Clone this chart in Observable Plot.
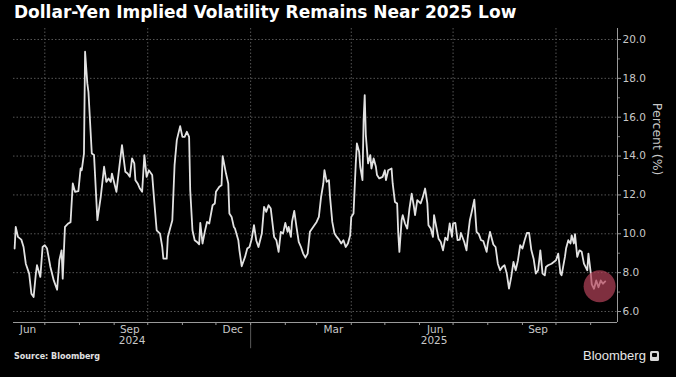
<!DOCTYPE html>
<html>
<head>
<meta charset="utf-8">
<script src="https://cdn.jsdelivr.net/npm/d3@7"></script>
<script src="https://cdn.jsdelivr.net/npm/@observablehq/plot@0.6"></script>
<style>
  html, body { margin: 0; padding: 0; background: #000; }
  #wrap { position: relative; width: 676px; height: 377px; background: #000; overflow: hidden; }
  #title { position: absolute; left: 14px; top: 4px; color: #fff; font: bold 17px "DejaVu Sans", sans-serif; line-height: 17px; white-space: nowrap; letter-spacing: 0; }
  #chart { position: absolute; left: 0; top: 24px; }
  #source { position: absolute; left: 14px; top: 352px; color: #e0e0e0; font: bold 8px "DejaVu Sans", sans-serif; line-height: 10px; white-space: nowrap; }
  #logo { position: absolute; left: 583px; top: 348px; color: #e6e6e6; font: 13px "Liberation Sans", Arial, sans-serif; line-height: 16px; white-space: nowrap; }
  #logo .icon { display: inline-block; width: 9px; height: 10px; background: #d8d8d8; border-radius: 1.5px; margin-left: 4px; vertical-align: -1px; position: relative; }
  #logo .icon::after { content: ""; position: absolute; left: 2px; top: 2px; width: 5px; height: 4px; background: #000; border-radius: 1px; }
</style>
</head>
<body>
<div id="wrap">
  <div id="title">Dollar-Yen Implied Volatility Remains Near 2025 Low</div>
  <div id="chart"></div>
  <div id="source">Source: Bloomberg</div>
  <div id="logo">Bloomberg<span class="icon"></span></div>
</div>
<script>
// ---- Data ----
const dates = [
  "2024-06-04","2024-06-05","2024-06-07","2024-06-10","2024-06-12","2024-06-14","2024-06-17","2024-06-19","2024-06-21","2024-06-23",
  "2024-06-24","2024-06-27","2024-06-29","2024-07-01","2024-07-03","2024-07-06","2024-07-09","2024-07-12","2024-07-14","2024-07-16",
  "2024-07-17","2024-07-19","2024-07-22","2024-07-24","2024-07-26","2024-07-28","2024-07-31","2024-08-02","2024-08-03","2024-08-05",
  "2024-08-06","2024-08-08","2024-08-09","2024-08-12","2024-08-14","2024-08-17","2024-08-20","2024-08-23","2024-08-25","2024-08-27",
  "2024-08-29","2024-08-30","2024-09-03","2024-09-06","2024-09-08","2024-09-11","2024-09-13","2024-09-15","2024-09-17","2024-09-19",
  "2024-09-20","2024-09-22","2024-09-24","2024-09-26","2024-09-28","2024-09-30","2024-10-02","2024-10-05","2024-10-07","2024-10-09",
  "2024-10-12","2024-10-14","2024-10-15","2024-10-18","2024-10-19","2024-10-21","2024-10-23","2024-10-25","2024-10-27","2024-10-30",
  "2024-11-01","2024-11-03","2024-11-05","2024-11-07","2024-11-08","2024-11-10","2024-11-12","2024-11-14","2024-11-16","2024-11-17",
  "2024-11-19","2024-11-21","2024-11-23","2024-11-25","2024-11-28","2024-11-30","2024-12-01","2024-12-04","2024-12-06","2024-12-07",
  "2024-12-10","2024-12-12","2024-12-13","2024-12-15","2024-12-17","2024-12-18","2024-12-21","2024-12-22","2024-12-24","2024-12-27",
  "2024-12-29","2024-12-31","2025-01-02","2025-01-04","2025-01-06","2025-01-08","2025-01-11","2025-01-13","2025-01-15","2025-01-17",
  "2025-01-19","2025-01-22","2025-01-24","2025-01-26","2025-01-28","2025-01-30","2025-02-01","2025-02-03","2025-02-04","2025-02-06",
  "2025-02-07","2025-02-09","2025-02-11","2025-02-13","2025-02-15","2025-02-17","2025-02-19","2025-02-21","2025-02-23","2025-02-25",
  "2025-02-27","2025-03-01","2025-03-03","2025-03-05","2025-03-07","2025-03-08","2025-03-10","2025-03-12","2025-03-13","2025-03-15",
  "2025-03-17","2025-03-19","2025-03-21","2025-03-23","2025-03-25","2025-03-27","2025-03-29","2025-03-31","2025-04-01","2025-04-03",
  "2025-04-05","2025-04-06","2025-04-08","2025-04-09","2025-04-11","2025-04-12","2025-04-13","2025-04-14","2025-04-16","2025-04-18",
  "2025-04-19","2025-04-21","2025-04-23","2025-04-24","2025-04-26","2025-04-29","2025-05-01","2025-05-02","2025-05-04","2025-05-07",
  "2025-05-08","2025-05-10","2025-05-12","2025-05-13","2025-05-14","2025-05-16","2025-05-17","2025-05-19","2025-05-21","2025-05-23",
  "2025-05-25","2025-05-27","2025-05-28","2025-05-30","2025-06-02","2025-06-04","2025-06-06","2025-06-08","2025-06-09","2025-06-11",
  "2025-06-13","2025-06-14","2025-06-16","2025-06-18","2025-06-20","2025-06-22","2025-06-24","2025-06-26","2025-06-28","2025-06-30",
  "2025-07-01","2025-07-03","2025-07-05","2025-07-07","2025-07-08","2025-07-11","2025-07-13","2025-07-14","2025-07-16","2025-07-18",
  "2025-07-20","2025-07-22","2025-07-24","2025-07-26","2025-07-28","2025-07-31","2025-08-01","2025-08-03","2025-08-06","2025-08-08",
  "2025-08-10","2025-08-12","2025-08-14","2025-08-16","2025-08-18","2025-08-20","2025-08-22","2025-08-24","2025-08-26","2025-08-28",
  "2025-08-30","2025-09-01","2025-09-03","2025-09-05","2025-09-07","2025-09-09","2025-09-11","2025-09-13","2025-09-15","2025-09-17",
  "2025-09-19","2025-09-21","2025-09-22","2025-09-24","2025-09-27","2025-09-29","2025-10-01","2025-10-03","2025-10-05","2025-10-06",
  "2025-10-09","2025-10-10","2025-10-12","2025-10-14","2025-10-15","2025-10-17","2025-10-18","2025-10-20","2025-10-22","2025-10-24",
  "2025-10-26","2025-10-29","2025-10-30","2025-11-01","2025-11-02","2025-11-04","2025-11-06","2025-11-08","2025-11-10","2025-11-12",
  "2025-11-14"
];
const values = [
  9.24,10.35,9.84,9.70,9.32,8.46,7.95,6.92,6.75,7.95,
  8.38,7.78,9.32,9.41,9.24,8.29,7.60,7.12,8.64,9.15,
  7.69,10.35,10.53,10.60,12.59,12.16,12.20,13.36,13.27,14.13,
  19.37,17.74,17.31,14.13,14.05,10.70,11.90,13.45,12.67,12.85,
  12.67,13.10,12.16,13.62,14.56,13.19,13.10,12.93,13.88,13.62,
  12.76,12.59,12.33,12.16,14.05,12.93,13.27,13.02,11.56,10.18,
  10.01,9.32,8.72,8.72,9.84,10.27,10.70,13.53,14.82,15.54,
  14.99,14.99,15.25,14.99,12.24,10.18,9.67,9.58,9.46,10.56,
  9.50,10.10,10.61,10.53,11.47,11.56,12.16,12.42,12.50,14.00,
  13.10,12.59,11.04,10.87,10.35,10.27,9.67,9.15,8.33,8.81,
  9.24,9.32,9.75,10.44,9.67,9.32,10.01,11.38,11.13,11.47,
  11.30,9.84,9.67,9.07,10.10,10.01,10.56,10.10,10.35,9.84,
  10.61,11.18,10.35,9.58,9.32,8.98,8.77,8.98,10.10,10.27,
  10.44,10.61,10.87,11.90,12.59,13.27,12.67,12.76,11.90,10.61,
  10.01,9.84,9.70,9.50,9.67,9.32,9.50,9.92,10.87,11.04,
  13.62,14.65,14.22,13.45,12.76,15.85,17.14,15.08,13.62,14.05,
  13.36,13.88,13.45,13.02,12.85,12.93,13.27,12.76,13.27,13.36,
  12.59,11.64,11.56,10.01,9.07,10.70,10.96,10.53,10.27,11.30,
  12.07,11.38,10.96,11.73,11.56,11.90,12.33,11.56,10.44,10.27,
  9.84,10.96,10.35,9.75,9.58,9.15,9.80,9.67,10.53,9.84,
  10.53,10.56,9.67,9.70,10.04,9.58,9.15,9.75,10.70,11.21,
  11.76,10.10,9.98,9.67,9.63,9.07,9.50,10.10,9.45,9.32,
  8.46,8.12,8.29,8.38,7.95,7.18,7.78,8.55,8.12,8.64,
  9.41,9.24,9.67,10.04,10.04,9.15,8.72,7.95,8.12,9.15,
  7.95,7.86,8.29,8.38,8.46,8.55,8.64,8.98,7.95,7.86,
  8.81,9.24,9.67,9.50,9.92,9.50,9.98,8.81,9.15,9.07,
  8.46,8.12,8.98,8.03,7.40,7.17,7.60,7.25,7.60,7.43,
  7.55
];
const highlightDates = ["2025-11-09"];
const highlightValues = [7.3];

const yTicks = [6, 8, 10, 12, 14, 16, 18, 20];
const yMinorTicks = [7, 9, 11, 13, 15, 17, 19];
const monthLabelDates = ["2024-06-16", "2024-09-15", "2024-12-16", "2025-03-16", "2025-06-15", "2025-09-15"];
const gridDates = ["2024-07-01", "2024-10-01", "2025-01-01", "2025-04-01", "2025-07-01", "2025-10-01"];
const yearLabels = ["2024", "2025"];
const yearLabelDates = ["2024-09-17", "2025-06-14"];
const yearSeparator = ["2025-01-01"];
const xDomain = ["2024-06-03", "2025-11-25"];
const yDomain = [5.434, 20.566];

// ---- Build ----
const toDate = s => new Date(s + "T00:00:00Z");
const series = dates.map((d, i) => ({date: toDate(d), value: values[i]}));
const highlight = highlightDates.map((d, i) => ({date: toDate(d), value: highlightValues[i]}));
const years = yearLabels.map((t, i) => ({date: toDate(yearLabelDates[i]), label: t}));
const monthTicks = d3.utcMonth.range(toDate("2024-07-01"), toDate("2025-11-02"));
const xEnd = toDate(xDomain[1]);
const axisColor = "#9a9a9a";
const textColor = "#c8c8c8";
const gridColor = "#555555";

const chart = Plot.plot({
  width: 676,
  height: 328,
  marginTop: 4,
  marginBottom: 30,
  marginLeft: 13,
  marginRight: 59,
  style: {background: "transparent", color: textColor, fontFamily: "'DejaVu Sans', sans-serif", fontSize: "10.5px", overflow: "visible"},
  x: {type: "utc", domain: xDomain.map(toDate), label: null},
  y: {domain: yDomain, label: null},
  marks: [
    Plot.ruleY(yTicks, {stroke: gridColor, strokeDasharray: "1.5,2"}),
    Plot.ruleX(gridDates.map(toDate), {stroke: gridColor, strokeDasharray: "1.5,2"}),
    Plot.ruleY([yDomain[0]], {stroke: axisColor}),
    Plot.ruleX([xEnd], {stroke: axisColor}),
    Plot.ruleX(yearSeparator.map(toDate), {y1: yDomain[0], y2: yDomain[0] - 1.35, stroke: "#5a5a5a"}),
    Plot.axisX({ticks: monthTicks, tickSize: 3, tickFormat: () => "", label: null, stroke: axisColor}),
    Plot.axisX({ticks: monthLabelDates.map(toDate), tickSize: 0, tickPadding: 3, tickFormat: d3.utcFormat("%b"), label: null, fill: textColor}),
    Plot.text(years, {x: "date", text: "label", frameAnchor: "bottom", dy: 21, fill: textColor}),
    Plot.axisY({anchor: "right", ticks: yTicks, tickSize: 3, tickPadding: 2, tickFormat: d3.format(".1f"), label: null, stroke: axisColor, fill: textColor}),
    Plot.axisY({anchor: "right", ticks: yMinorTicks, tickSize: 2, tickFormat: () => "", label: null, stroke: "#777"}),
    Plot.text(["Percent (%)"], {frameAnchor: "right", dx: 39, rotate: 90, text: d => d, fontSize: 12.5, fill: textColor}),
    Plot.line(series, {x: "date", y: "value", stroke: "#e2e2e2", strokeWidth: 1.8, strokeLinejoin: "round"}),
    Plot.dot(highlight, {x: "date", y: "value", r: 16, fill: "#b5435a", fillOpacity: 0.7, stroke: "none"})
  ]
});
document.getElementById("chart").appendChild(chart);
</script>
</body>
</html>
